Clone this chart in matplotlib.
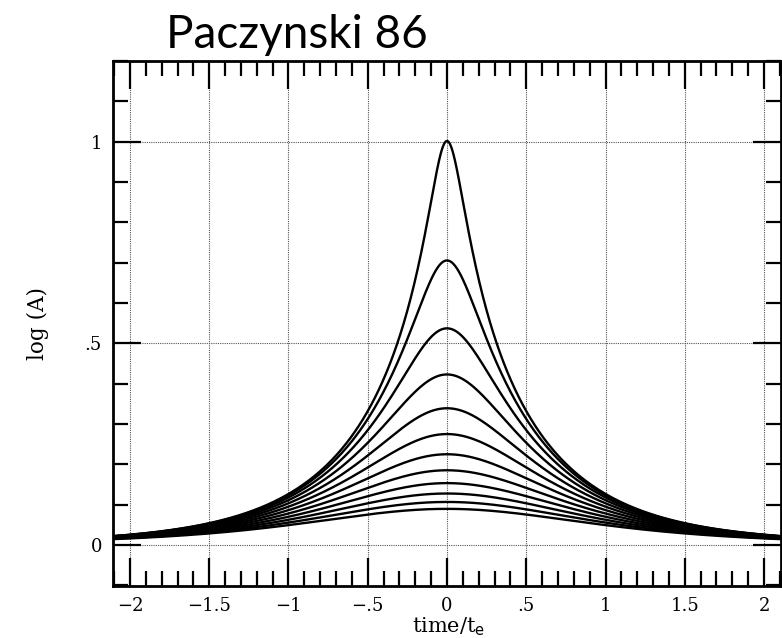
"""
Paczynski (1986) microlensing light curves: log(A) against time/t_e
for a family of impact parameters.
"""

import numpy as np

import matplotlib
matplotlib.use("Agg")
import matplotlib.pyplot as plt
from matplotlib.ticker import FixedLocator, MultipleLocator

# Impact parameters u0 (in Einstein radii), read from the peak heights
u0_values = [0.1, 0.2, 0.3, 0.4, 0.5, 0.6, 0.7, 0.8, 0.9, 1.0, 1.1, 1.2]

x_ticks = [-2, -1.5, -1, -0.5, 0, 0.5, 1, 1.5, 2]
x_tick_labels = ["\u22122", "\u22121.5", "\u22121", "\u2212.5", "0", ".5", "1", "1.5", "2"]
y_ticks = [0, 0.5, 1]
y_tick_labels = ["0", ".5", "1"]

title = "Paczynski 86"
x_label = "time/t$_{\\rm e}$"
y_label = "log (A)"


def magnification(u):
    return (u ** 2 + 2) / (u * np.sqrt(u ** 2 + 4))


def main():
    fig = plt.figure(figsize=(7.82, 6.38), dpi=100)
    ax = fig.add_axes([113 / 782, 52 / 638, 668 / 782, 525 / 638])

    t = np.linspace(-2.2, 2.2, 1200)
    for u0 in u0_values:
        u = np.sqrt(u0 ** 2 + t ** 2)
        ax.plot(t, np.log10(magnification(u)), color="black", lw=1.7, zorder=3)

    ax.set_xlim(-2.107, 2.107)
    ax.set_ylim(-0.1017, 1.2)

    # dotted grid only at labelled values
    for x in x_ticks:
        ax.axvline(x, color="#555555", lw=0.8, ls=(0, (1, 1)), zorder=1)
    for y in y_ticks:
        ax.axhline(y, color="#555555", lw=0.8, ls=(0, (1, 1)), zorder=1)

    serif = "DejaVu Serif"
    ax.xaxis.set_major_locator(FixedLocator(x_ticks))
    ax.set_xticklabels(x_tick_labels, family=serif, fontsize=13)
    ax.xaxis.set_minor_locator(MultipleLocator(0.1))
    ax.yaxis.set_major_locator(FixedLocator(y_ticks))
    ax.set_yticklabels(y_tick_labels, family=serif, fontsize=13)
    ax.yaxis.set_minor_locator(MultipleLocator(0.1))

    ax.tick_params(which="both", direction="in", top=True, right=True,
                   color="black", width=1.6)
    ax.tick_params(which="major", length=20, pad=8)
    ax.tick_params(which="minor", length=11)

    for sp in ax.spines.values():
        sp.set_linewidth(2)

    # x label sits very close to the bottom edge, place it by hand
    fig.text(449 / 782, 1 - 632 / 638, x_label, family=serif, fontsize=15,
             ha="center", va="baseline")
    ax.set_ylabel(y_label, family=serif, fontsize=15.5, labelpad=26)

    fig.text(166 / 782, 1 - 48 / 638, title, family="Lato", fontsize=33,
             ha="left", va="baseline")

    fig.savefig("out.png", dpi=100)
    plt.close(fig)


if __name__ == "__main__":
    main()
